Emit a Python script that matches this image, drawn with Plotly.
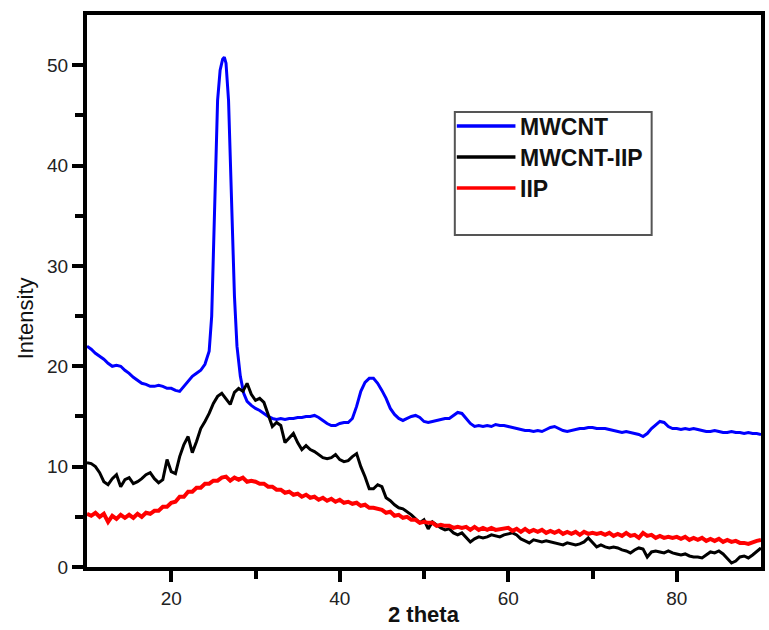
import plotly.graph_objects as go

# ---- data (2 theta, intensity) ----
mwcnt_pts = [
    (10, 22.0), (10.5, 21.7), (11, 21.3), (11.5, 21.0), (12, 20.7), (12.5, 20.3), (13, 20.0), (13.5, 20.1),
    (14, 20.0), (14.5, 19.6), (15, 19.3), (15.5, 18.9), (16, 18.6), (16.5, 18.3), (17, 18.2), (17.5, 18.0),
    (18, 18.0), (18.5, 18.1), (19, 18.0), (19.5, 17.8), (20, 17.8), (20.5, 17.6), (21, 17.5), (21.5, 18.0),
    (22, 18.6), (22.5, 19.0), (23, 19.3), (23.5, 19.6), (24, 20.2), (24.5, 21.5), (24.8, 25.0), (25.1, 34.6),
    (25.3, 40.0), (25.5, 46.5), (25.8, 49.5), (26.1, 50.6), (26.3, 50.8), (26.5, 50.2), (26.8, 46.5),
    (27.0, 41.0), (27.2, 34.6), (27.5, 27.0), (27.8, 22.0), (28.2, 19.0), (28.6, 17.3), (29, 16.5),
    (29.5, 16.1), (30, 15.8), (30.5, 15.6), (31, 15.3), (31.5, 15.0), (32, 14.8), (32.5, 14.7), (33, 14.8),
    (33.5, 14.7), (34, 14.8), (34.5, 14.8), (35, 14.9), (35.5, 14.9), (36, 15.0), (36.5, 15.0), (37, 15.1),
    (37.5, 14.9), (38, 14.6), (38.5, 14.3), (39, 14.1), (39.5, 14.1), (40, 14.3), (40.5, 14.4), (41, 14.4),
    (41.5, 14.8), (42, 16.0), (42.5, 17.5), (43, 18.4), (43.5, 18.8), (44, 18.8), (44.5, 18.3), (45, 17.6),
    (45.5, 16.8), (46, 15.8), (46.5, 15.2), (47, 14.8), (47.5, 14.6), (48, 14.8), (48.5, 15.0), (49, 15.1),
    (49.5, 14.9), (50, 14.5), (50.5, 14.4), (51, 14.5), (51.5, 14.6), (52, 14.7), (52.5, 14.8), (53, 14.8),
    (53.5, 15.1), (54, 15.4), (54.5, 15.3), (55, 14.8), (55.5, 14.3), (56, 14.0), (56.5, 14.1), (57, 14.0),
    (57.5, 14.1), (58, 14.0), (58.5, 14.2), (59, 14.1), (59.5, 14.1), (60, 14.0), (60.5, 13.9), (61, 13.8),
    (61.5, 13.7), (62, 13.6), (62.5, 13.6), (63, 13.5), (63.5, 13.6), (64, 13.5), (64.5, 13.7), (65, 13.9),
    (65.5, 14.0), (66, 13.8), (66.5, 13.6), (67, 13.5), (67.5, 13.6), (68, 13.7), (68.5, 13.8), (69, 13.8),
    (69.5, 13.9), (70, 13.9), (70.5, 13.8), (71, 13.8), (71.5, 13.8), (72, 13.7), (72.5, 13.6), (73, 13.5),
    (73.5, 13.4), (74, 13.5), (74.5, 13.4), (75, 13.3), (75.5, 13.2), (76, 13.0), (76.5, 13.3), (77, 13.8),
    (77.5, 14.2), (78, 14.5), (78.5, 14.4), (79, 14.0), (79.5, 13.8), (80, 13.8), (80.5, 13.7), (81, 13.8),
    (81.5, 13.7), (82, 13.8), (82.5, 13.7), (83, 13.6), (83.5, 13.5), (84, 13.5), (84.5, 13.6), (85, 13.5),
    (85.5, 13.4), (86, 13.4), (86.5, 13.5), (87, 13.4), (87.5, 13.4), (88, 13.3), (88.5, 13.4), (89, 13.3),
    (89.5, 13.3), (90, 13.2),
]

mwcnt_iip_pts = [
    (10, 10.4), (10.5, 10.3), (11, 10.0), (11.5, 9.4), (12, 8.5), (12.5, 8.2), (13, 8.8), (13.5, 9.2),
    (14, 8.0), (14.5, 8.7), (15, 8.9), (15.5, 8.3), (16, 8.5), (16.5, 8.8), (17, 9.2), (17.5, 9.4),
    (18, 8.8), (18.5, 8.4), (19, 8.7), (19.5, 10.7), (20, 9.5), (20.5, 9.3), (21, 11.0), (21.5, 12.2),
    (22, 13.0), (22.5, 11.4), (23, 12.5), (23.5, 13.8), (24, 14.5), (24.5, 15.3), (25, 16.3), (25.5, 17.0),
    (26, 17.3), (26.5, 16.8), (27, 16.2), (27.5, 17.4), (28, 17.8), (28.5, 17.5), (29, 18.3), (29.5, 17.2),
    (30, 16.6), (30.5, 16.8), (31, 16.4), (31.5, 15.2), (32, 14.0), (32.5, 14.4), (33, 14.1), (33.5, 12.4),
    (34, 12.8), (34.5, 13.3), (35, 12.4), (35.5, 11.7), (36, 12.1), (36.5, 11.7), (37, 11.5), (37.5, 11.2),
    (38, 10.9), (38.5, 10.8), (39, 10.9), (39.5, 11.2), (40, 10.7), (40.5, 10.5), (41, 10.6), (41.5, 11.0),
    (42, 11.3), (42.5, 10.0), (43, 9.0), (43.5, 7.8), (44, 7.8), (44.5, 8.2), (45, 8.0), (45.5, 6.9),
    (46, 6.6), (46.5, 6.2), (47, 5.9), (47.5, 5.8), (48, 5.5), (48.5, 5.2), (49, 4.8), (49.5, 4.4),
    (50, 4.7), (50.5, 3.8), (51, 4.5), (51.5, 4.2), (52, 3.9), (52.5, 3.7), (53, 3.8), (53.5, 3.4),
    (54, 3.2), (54.5, 3.4), (55, 2.9), (55.5, 2.5), (56, 2.8), (56.5, 3.0), (57, 2.9), (57.5, 3.0),
    (58, 3.2), (58.5, 3.1), (59, 3.0), (59.5, 3.2), (60, 3.3), (60.5, 3.4), (61, 3.2), (61.5, 2.8),
    (62, 2.6), (62.5, 2.4), (63, 2.7), (63.5, 2.6), (64, 2.5), (64.5, 2.6), (65, 2.5), (65.5, 2.4),
    (66, 2.3), (66.5, 2.2), (67, 2.4), (67.5, 2.3), (68, 2.2), (68.5, 2.3), (69, 2.5), (69.5, 2.9),
    (70, 2.4), (70.5, 2.0), (71, 2.2), (71.5, 2.0), (72, 1.9), (72.5, 2.0), (73, 1.9), (73.5, 1.7),
    (74, 1.6), (74.5, 1.4), (75, 1.7), (75.5, 1.9), (76, 1.8), (76.5, 1.0), (77, 1.5), (77.5, 1.6),
    (78, 1.5), (78.5, 1.4), (79, 1.6), (79.5, 1.4), (80, 1.3), (80.5, 1.2), (81, 1.3), (81.5, 1.1),
    (82, 1.0), (82.5, 1.0), (83, 0.9), (83.5, 1.2), (84, 1.5), (84.5, 1.4), (85, 1.6), (85.5, 1.3),
    (86, 0.9), (86.5, 0.4), (87, 0.6), (87.5, 1.0), (88, 1.1), (88.5, 0.9), (89, 1.2), (89.5, 1.6),
    (90, 1.9),
]

iip_pts = [
    (10, 5.3), (10.5, 5.1), (11, 5.4), (11.5, 5.0), (12, 5.3), (12.5, 4.5), (13, 5.1), (13.5, 4.8),
    (14, 5.2), (14.5, 4.9), (15, 5.2), (15.5, 4.9), (16, 5.3), (16.5, 5.0), (17, 5.4), (17.5, 5.3),
    (18, 5.6), (18.5, 5.6), (19, 6.0), (19.5, 6.0), (20, 6.4), (20.5, 6.5), (21, 7.0), (21.5, 7.0),
    (22, 7.5), (22.5, 7.5), (23, 7.9), (23.5, 7.9), (24, 8.3), (24.5, 8.3), (25, 8.6), (25.5, 8.6),
    (26, 8.9), (26.5, 9.0), (27, 8.6), (27.5, 8.9), (28, 8.7), (28.5, 8.9), (29, 8.5), (29.5, 8.6),
    (30, 8.5), (30.5, 8.3), (31, 8.3), (31.5, 8.0), (32, 8.0), (32.5, 7.7), (33, 7.7), (33.5, 7.4),
    (34, 7.5), (34.5, 7.2), (35, 7.3), (35.5, 7.0), (36, 7.2), (36.5, 6.9), (37, 7.0), (37.5, 6.7),
    (38, 6.9), (38.5, 6.6), (39, 6.8), (39.5, 6.5), (40, 6.7), (40.5, 6.4), (41, 6.5), (41.5, 6.3),
    (42, 6.4), (42.5, 6.1), (43, 6.2), (43.5, 5.9), (44, 5.9), (44.5, 5.8), (45, 5.7), (45.5, 5.4),
    (46, 5.5), (46.5, 5.1), (47, 5.2), (47.5, 4.9), (48, 5.0), (48.5, 4.7), (49, 4.7), (49.5, 4.4),
    (50, 4.5), (50.5, 4.4), (51, 4.4), (51.5, 4.1), (52, 4.2), (52.5, 4.1), (53, 4.1), (53.5, 3.9),
    (54, 4.0), (54.5, 3.9), (55, 4.0), (55.5, 3.7), (56, 4.0), (56.5, 3.7), (57, 3.9), (57.5, 3.7),
    (58, 3.9), (58.5, 3.7), (59, 3.8), (59.5, 3.8), (60, 3.9), (60.5, 3.6), (61, 3.8), (61.5, 3.5),
    (62, 3.8), (62.5, 3.5), (63, 3.7), (63.5, 3.5), (64, 3.7), (64.5, 3.4), (65, 3.6), (65.5, 3.4),
    (66, 3.6), (66.5, 3.3), (67, 3.5), (67.5, 3.3), (68, 3.5), (68.5, 3.2), (69, 3.5), (69.5, 3.3),
    (70, 3.4), (70.5, 3.3), (71, 3.4), (71.5, 3.2), (72, 3.4), (72.5, 3.1), (73, 3.3), (73.5, 3.1),
    (74, 3.4), (74.5, 3.1), (75, 3.2), (75.5, 2.9), (76, 3.4), (76.5, 3.1), (77, 3.2), (77.5, 2.9),
    (78, 3.1), (78.5, 2.9), (79, 3.0), (79.5, 2.9), (80, 3.0), (80.5, 2.8), (81, 3.0), (81.5, 2.7),
    (82, 2.9), (82.5, 2.7), (83, 2.9), (83.5, 2.6), (84, 2.8), (84.5, 2.6), (85, 2.8), (85.5, 2.5),
    (86, 2.7), (86.5, 2.5), (87, 2.6), (87.5, 2.4), (88, 2.4), (88.5, 2.3), (89, 2.5), (89.5, 2.6),
    (90, 2.7),
]

series_names = ["MWCNT", "MWCNT-IIP", "IIP"]
series_colors = ["#0000ff", "#000000", "#ff0000"]
series_widths = [3, 3, 4]
series_pts = [mwcnt_pts, mwcnt_iip_pts, iip_pts]

x_tickvals = [20, 40, 60, 80]
x_minor_tickvals = [30, 50, 70]
y_tickvals = [0, 10, 20, 30, 40, 50]
y_minor_tickvals = [5, 15, 25, 35, 45]

FONT = "Liberation Sans, Arial, sans-serif"

fig = go.Figure()
for name, color, w, pts in zip(series_names, series_colors, series_widths, series_pts):
    fig.add_trace(go.Scatter(
        x=[p[0] for p in pts], y=[p[1] for p in pts], mode="lines", name=name,
        line=dict(color=color, width=w), showlegend=False,
    ))

axis_common = dict(
    showgrid=False, zeroline=False, showline=True, linecolor="black", linewidth=4,
    mirror=True, ticks="outside", ticklen=11, tickwidth=3.5, tickcolor="black",
    tickfont=dict(family=FONT, size=19, color="#222222"),
)

fig.update_xaxes(
    range=[10, 90], tickmode="array", tickvals=x_tickvals,
    minor=dict(tickmode="array", tickvals=x_minor_tickvals, ticks="outside", ticklen=8, tickwidth=3.5,
               tickcolor="black"),
    **axis_common,
)
fig.update_yaxes(
    range=[0, 55], tickmode="array", tickvals=y_tickvals,
    minor=dict(tickmode="array", tickvals=y_minor_tickvals, ticks="outside", ticklen=8, tickwidth=3.5,
               tickcolor="black"),
    **axis_common,
)

L, R, T, B = 87, 4, 15, 63
W, H = 769, 630
pw, ph = W - L - R, H - T - B


def px2x(px):
    return (px - L) / pw


def px2y(py):
    return (H - B - py) / ph


shapes = [
    dict(type="rect", xref="paper", yref="paper", x0=px2x(457), x1=px2x(655),
         y0=px2y(235), y1=px2y(112), line=dict(color="#555555", width=2), fillcolor="rgba(0,0,0,0)"),
]
annotations = []
legend_rows = [126, 157, 188]
for name, color, row in zip(series_names, series_colors, legend_rows):
    shapes.append(dict(type="line", xref="paper", yref="paper", x0=px2x(459), x1=px2x(518),
                       y0=px2y(row), y1=px2y(row), line=dict(color=color, width=3.5)))
    annotations.append(dict(xref="paper", yref="paper", x=px2x(521), y=px2y(row + 1), text=name,
                            showarrow=False, xanchor="left", yanchor="middle",
                            font=dict(family=FONT, size=23, color="#111111", weight="bold")))

annotations.append(dict(xref="paper", yref="paper", x=px2x(426), y=px2y(614), text="2 theta",
                        showarrow=False, xanchor="center", yanchor="middle",
                        font=dict(family=FONT, size=22, color="#111111", weight="bold")))
annotations.append(dict(xref="paper", yref="paper", x=px2x(25), y=px2y(318), text="Intensity",
                        showarrow=False, xanchor="center", yanchor="middle", textangle=-90,
                        font=dict(family=FONT, size=22, color="#111111")))

fig.update_layout(
    width=W, height=H, margin=dict(l=L, r=R, t=T, b=B),
    paper_bgcolor="white", plot_bgcolor="white",
    shapes=shapes, annotations=annotations, showlegend=False,
)

fig.write_html("out.html")
